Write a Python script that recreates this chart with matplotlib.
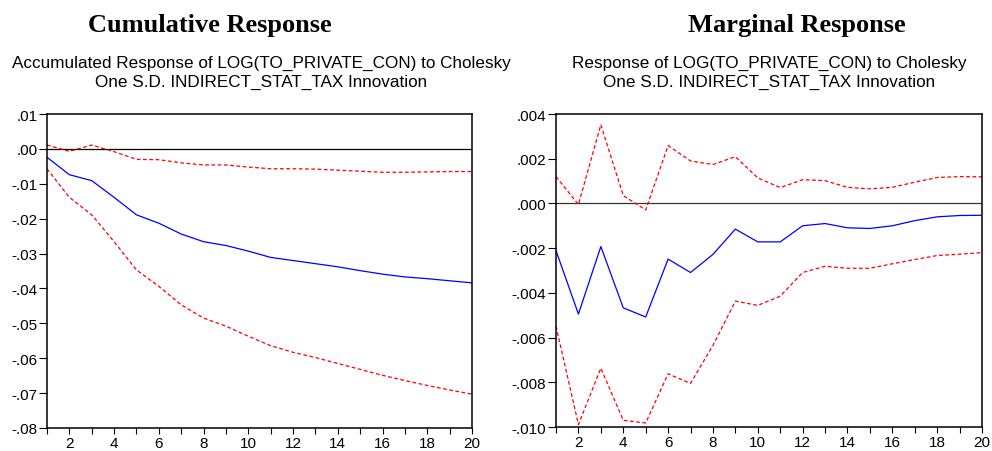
import numpy as np
import matplotlib
matplotlib.use('Agg')
import matplotlib.pyplot as plt
from matplotlib.ticker import FuncFormatter

plt.rcParams['font.family'] = ['Liberation Sans', 'DejaVu Sans']

periods = list(range(1, 21))

# cumulative (accumulated) response
cum_resp = [-0.0024, -0.0074, -0.0091, -0.0139, -0.0189, -0.0213, -0.0244, -0.0266, -0.0277, -0.0293,
            -0.0311, -0.0320, -0.0329, -0.0338, -0.0349, -0.0359, -0.0367, -0.0372, -0.0378, -0.0384]
cum_upper = [0.0011, -0.0007, 0.0011, -0.0008, -0.0030, -0.0031, -0.0040, -0.0046, -0.0046, -0.0052,
             -0.0057, -0.0057, -0.0058, -0.0061, -0.0064, -0.0067, -0.0067, -0.0066, -0.0065, -0.0065]
cum_lower = [-0.0057, -0.0139, -0.0189, -0.0266, -0.0347, -0.0394, -0.0447, -0.0485, -0.0508, -0.0537,
             -0.0564, -0.0583, -0.0598, -0.0615, -0.0632, -0.0649, -0.0664, -0.0678, -0.0691, -0.0703]

# marginal response
mar_resp = [-0.00211, -0.00495, -0.00193, -0.00467, -0.00508, -0.00249, -0.00309, -0.00228, -0.00115, -0.00172,
            -0.00172, -0.00100, -0.00090, -0.00109, -0.00112, -0.00100, -0.00077, -0.00060, -0.00054, -0.00053]
mar_upper = [0.00120, -0.00005, 0.00352, 0.00035, -0.00029, 0.00259, 0.00190, 0.00174, 0.00209, 0.00114,
             0.00071, 0.00106, 0.00102, 0.00072, 0.00065, 0.00072, 0.00095, 0.00116, 0.00120, 0.00119]
mar_lower = [-0.00549, -0.00989, -0.00737, -0.00970, -0.00982, -0.00762, -0.00805, -0.00635, -0.00437, -0.00456,
             -0.00415, -0.00309, -0.00281, -0.00290, -0.00290, -0.00270, -0.00251, -0.00233, -0.00227, -0.00220]

cum_yticks = [0.01, 0.0, -0.01, -0.02, -0.03, -0.04, -0.05, -0.06, -0.07, -0.08]
mar_yticks = [0.004, 0.002, 0.0, -0.002, -0.004, -0.006, -0.008, -0.010]

W, H = 992, 452


def fmt(decimals):
    def f(v, pos):
        s = '%.*f' % (decimals, v)
        if s.startswith('-0'):
            s = '-' + s[2:]
        elif s.startswith('0'):
            s = s[1:]
        return s
    return FuncFormatter(f)


def draw_panel(ax, resp, upper, lower, yticks, decimals, zero_color):
    ax.axhline(0, color=zero_color, linewidth=0.9, zorder=1)
    ax.plot(periods, upper, color='red', linewidth=0.9, dashes=(3, 2))
    ax.plot(periods, lower, color='red', linewidth=0.9, dashes=(3, 2))
    ax.plot(periods, resp, color='blue', linewidth=0.9)
    ax.set_xlim(1, 20)
    ax.set_ylim(min(yticks), max(yticks))
    ax.set_yticks(yticks)
    ax.yaxis.set_major_formatter(fmt(decimals))
    ax.set_xticks(periods)
    ax.set_xticklabels([str(p) if p % 2 == 0 else '' for p in periods])
    ax.tick_params(axis='y', direction='out', length=6, width=0.8, pad=1, labelsize=11)
    ax.tick_params(axis='x', direction='out', length=4.5, width=0.8, pad=1.5, labelsize=11)
    for s in ax.spines.values():
        s.set_linewidth(1.1)


fig = plt.figure(figsize=(W / 100, H / 100), dpi=100)

ax1 = fig.add_axes([47 / W, 1 - 429 / H, (472 - 47) / W, (429 - 115) / H])
draw_panel(ax1, cum_resp, cum_upper, cum_lower, cum_yticks, 2, 'black')

ax2 = fig.add_axes([556 / W, 1 - 428 / H, (982 - 556) / W, (428 - 115) / H])
draw_panel(ax2, mar_resp, mar_upper, mar_lower, mar_yticks, 3, '#333333')

# titles
title_font = ['Liberation Serif', 'DejaVu Serif']
fig.text(210 / W, 1 - 32 / H, 'Cumulative Response', ha='center', va='baseline',
         family=title_font, fontweight='bold', fontsize=19)
fig.text(797 / W, 1 - 32 / H, 'Marginal Response', ha='center', va='baseline',
         family=title_font, fontweight='bold', fontsize=19)

fig.text(261 / W, 1 - 68 / H, 'Accumulated Response of LOG(TO_PRIVATE_CON) to Cholesky',
         ha='center', va='baseline', fontsize=12.3)
fig.text(261 / W, 1 - 87 / H, 'One S.D. INDIRECT_STAT_TAX Innovation',
         ha='center', va='baseline', fontsize=12.3)
fig.text(769 / W, 1 - 68 / H, 'Response of LOG(TO_PRIVATE_CON) to Cholesky',
         ha='center', va='baseline', fontsize=12.3)
fig.text(769 / W, 1 - 87 / H, 'One S.D. INDIRECT_STAT_TAX Innovation',
         ha='center', va='baseline', fontsize=12.3)

fig.savefig('out.png', dpi=100, facecolor='w')
